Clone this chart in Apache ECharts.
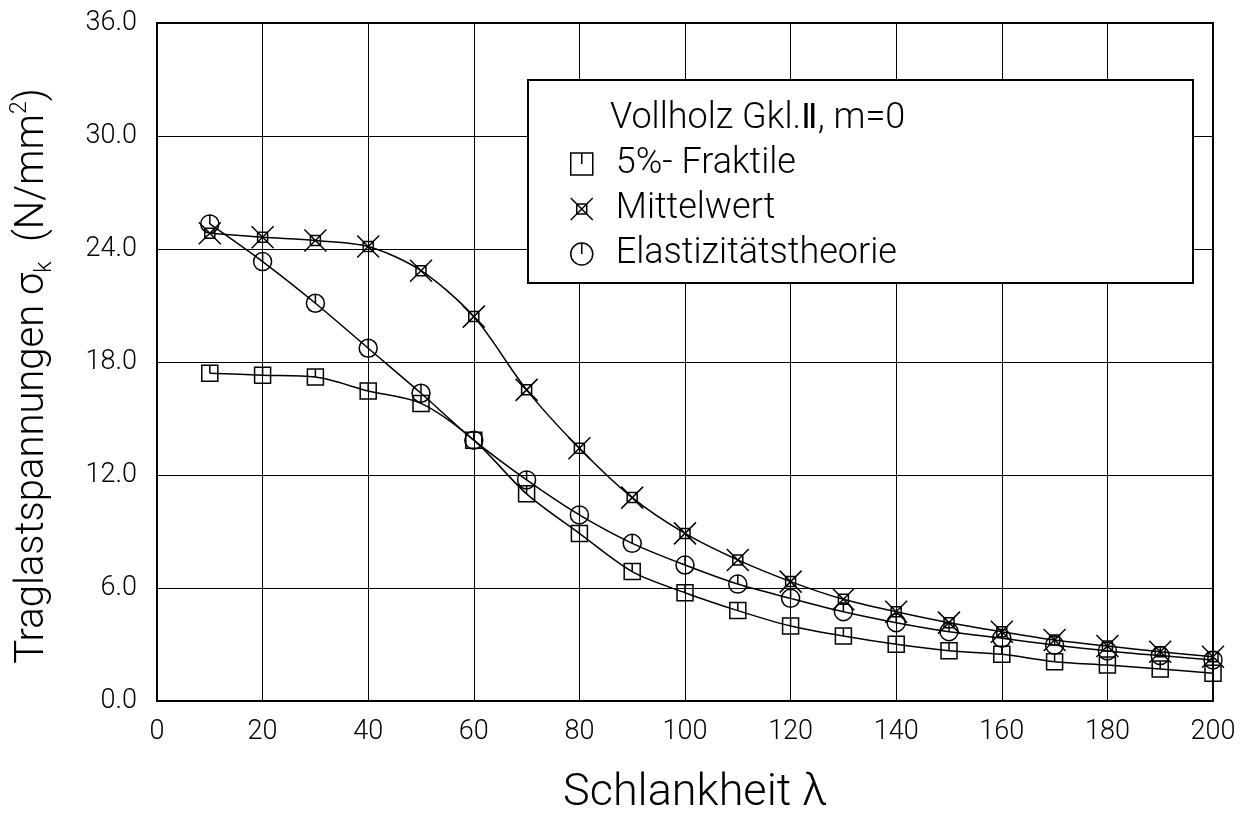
<!DOCTYPE html>
<html>
<head>
<meta charset="utf-8">
<script src="https://cdn.jsdelivr.net/npm/echarts@6/dist/echarts.min.js"></script>
<style>
  html, body { margin: 0; padding: 0; background: #fff; }
  #chart { width: 1243px; height: 822px; }
</style>
</head>
<body>
<div id="chart"></div>
<script>
// Schlankheit lambda
const lambda = [10, 20, 30, 40, 50, 60, 70, 80, 90, 100, 110, 120, 130, 140, 150, 160, 170, 180, 190, 200]

// Traglastspannungen (N/mm2)
const fraktile = [17.4, 17.3, 17.2, 16.46, 15.8, 13.85, 11.0, 8.9, 6.87, 5.75, 4.8, 3.98, 3.45, 3.01, 2.67, 2.48, 2.09, 1.91, 1.7, 1.47]
const mittelwert = [24.84, 24.62, 24.45, 24.13, 22.85, 20.41, 16.52, 13.42, 10.8, 8.9, 7.49, 6.34, 5.4, 4.74, 4.16, 3.68, 3.24, 2.92, 2.62, 2.35]
const elastizitaet = [25.33, 23.33, 21.12, 18.73, 16.34, 13.85, 11.74, 9.88, 8.37, 7.22, 6.21, 5.45, 4.74, 4.16, 3.68, 3.33, 2.97, 2.66, 2.41, 2.18]

const seriesNames = ['5%- Fraktile', 'Mittelwert', 'Elastizitätstheorie']

const FONT = 'Roboto'
const symSquare = 'path://M-8,-8 L8,-8 L8,8 L-8,8 Z M0,-8 L0,0'
const symCross = 'path://M-5,-5 L5,-5 L5,5 L-5,5 Z M-11,-11 L11,11 M11,-11 L-11,11'
const symCircle = 'path://M0,-9 A9,9 0 1,1 0,9 A9,9 0 1,1 0,-9 Z M0,-9 L0,0'

function toPairs(ys) {
  return lambda.map((x, i) => [x, ys[i]])
}

function makeSeries(name, ys, symbol, size) {
  return {
    name,
    type: 'line',
    data: toPairs(ys),
    smooth: 0.3,
    symbol,
    symbolSize: size,
    showAllSymbol: true,
    lineStyle: { color: '#000', width: 1.5 },
    itemStyle: { color: 'transparent', borderColor: '#000', borderWidth: 1.5 },
    z: 5,
  }
}

const chart = echarts.init(document.getElementById('chart'))

const option = {
  backgroundColor: '#fff',
  animation: false,
  textStyle: { fontFamily: FONT, fontWeight: 300, color: '#000' },
  grid: {
    left: 157,
    right: 30,
    top: 23,
    bottom: 121,
    show: true,
    borderColor: '#000',
    borderWidth: 2,
  },
  xAxis: {
    type: 'value',
    min: 0,
    max: 200,
    interval: 20,
    name: 'Schlankheit λ',
    nameLocation: 'middle',
    nameGap: 70,
    nameTextStyle: { fontFamily: FONT, fontWeight: 300, fontSize: 45, color: '#000', padding: [0, 0, 0, 20] },
    axisLine: { show: false },
    axisTick: { show: false },
    axisLabel: { fontFamily: FONT, fontWeight: 300, fontSize: 27, color: '#000', margin: 18 },
    splitLine: { show: true, lineStyle: { color: '#000', width: 1 } },
  },
  yAxis: {
    type: 'value',
    min: 0,
    max: 36,
    interval: 6,
    name: '{n|Traglastspannungen σ}{sub|k}{n|  (N/mm}{sup|2}{n|)}',
    nameLocation: 'middle',
    nameRotate: 90,
    nameGap: 100,
    nameTextStyle: {
      padding: [0, 28, 0, 0],
      rich: {
        n: { fontFamily: FONT, fontWeight: 300, fontSize: 40, color: '#000', lineHeight: 48, verticalAlign: 'middle' },
        sub: { fontFamily: FONT, fontWeight: 300, fontSize: 23, color: '#000', lineHeight: 48, verticalAlign: 'bottom' },
        sup: { fontFamily: FONT, fontWeight: 300, fontSize: 23, color: '#000', lineHeight: 48, verticalAlign: 'top' },
      },
    },
    axisLine: { show: false },
    axisTick: { show: false },
    axisLabel: {
      fontFamily: FONT, fontWeight: 300, fontSize: 27, color: '#000', margin: 20,
      formatter: (v) => v.toFixed(1),
    },
    splitLine: { show: true, lineStyle: { color: '#000', width: 1 } },
  },
  graphic: [
    {
      type: 'rect',
      z: 10,
      shape: { x: 528, y: 80, width: 665, height: 203 },
      style: { fill: '#fff', stroke: '#000', lineWidth: 2 },
    },
    {
      type: 'text',
      z: 11,
      left: 610,
      top: 101,
      style: {
        text: '{t|Vollholz Gkl.}{r|Ⅱ}{t|, m=0}',
        rich: {
          t: { fontFamily: FONT, fontWeight: 300, fontSize: 36, fill: '#000' },
          r: { fontFamily: 'DejaVu Sans', fontWeight: 'normal', fontSize: 34, fill: '#000' },
        },
      },
    },
  ],
  legend: {
    z: 20,
    orient: 'vertical',
    left: 565,
    top: 139,
    itemWidth: 22,
    itemHeight: 22,
    itemGap: 5,
    data: [
      { name: seriesNames[0], icon: symSquare },
      { name: seriesNames[1], icon: symCross },
      { name: seriesNames[2], icon: symCircle },
    ],
    itemStyle: { color: 'transparent', borderColor: '#000', borderWidth: 1.5 },
    textStyle: { fontFamily: FONT, fontWeight: 300, fontSize: 36, color: '#000', lineHeight: 40, padding: [0, 0, 0, 18] },
  },
  series: [
    makeSeries(seriesNames[0], fraktile, symSquare, 16),
    makeSeries(seriesNames[1], mittelwert, symCross, 22),
    makeSeries(seriesNames[2], elastizitaet, symCircle, 18),
  ],
}

chart.setOption(option)
</script>
</body>
</html>
